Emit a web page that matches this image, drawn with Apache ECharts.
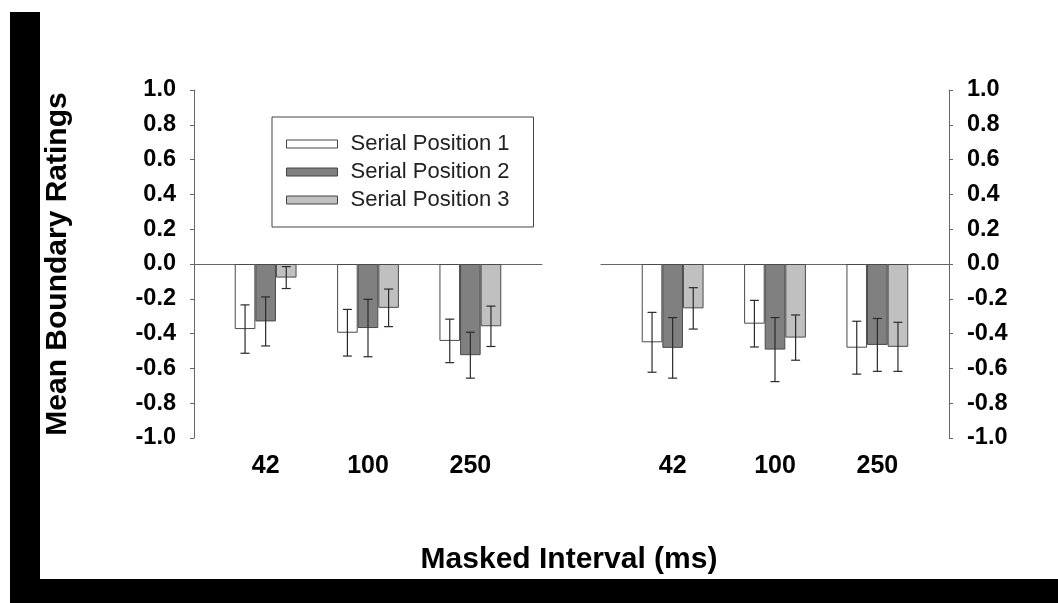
<!DOCTYPE html>
<html>
<head>
<meta charset="utf-8">
<script src="https://cdn.jsdelivr.net/npm/echarts@6/dist/echarts.min.js"></script>
<style>
html,body{margin:0;padding:0;background:#fff;}
#chart{width:1058px;height:603px;}
</style>
</head>
<body>
<div id="chart"></div>
<script>
// ---- data ----
const categories = ['42', '100', '250'];
const seriesNames = ['Serial Position 1', 'Serial Position 2', 'Serial Position 3'];

const leftSP1 = [-0.374, -0.395, -0.442];
const leftSP1Err = [0.139, 0.134, 0.125];
const leftSP2 = [-0.330, -0.368, -0.524];
const leftSP2Err = [0.141, 0.165, 0.132];
const leftSP3 = [-0.078, -0.252, -0.358];
const leftSP3Err = [0.063, 0.108, 0.116];

const rightSP1 = [-0.450, -0.343, -0.481];
const rightSP1Err = [0.172, 0.134, 0.152];
const rightSP2 = [-0.482, -0.492, -0.465];
const rightSP2Err = [0.174, 0.184, 0.152];
const rightSP3 = [-0.255, -0.423, -0.476];
const rightSP3Err = [0.119, 0.130, 0.141];

const yTicks = { min: -1.0, max: 1.0, interval: 0.2 };

// ---- styles ----
const BAR_W = 20.6;
const fills = ['#ffffff', '#808080', '#c0c0c0'];
const axisColor = '#666666';
const FONT = '"Liberation Sans", Arial, sans-serif';

const panels = [
  { vals: [leftSP1, leftSP2, leftSP3], errs: [leftSP1Err, leftSP2Err, leftSP3Err] },
  { vals: [rightSP1, rightSP2, rightSP3], errs: [rightSP1Err, rightSP2Err, rightSP3Err] }
];

function fmt(v) {
  if (Math.abs(v) < 1e-9) return '0.0';
  return v.toFixed(1);
}

const grids = [
  { left: 194, top: 90, width: 348, height: 348, containLabel: false, outerBoundsMode: 'none' },
  { left: 601, top: 90, width: 348, height: 348, containLabel: false, outerBoundsMode: 'none' }
];

const xAxes = [];
const yAxes = [];
const series = [];

panels.forEach((p, gi) => {
  // zero line axis (used by bars)
  xAxes.push({
    gridIndex: gi, type: 'value', min: -0.7, max: 2.7, position: 'top',
    axisLine: { show: true, onZero: true, lineStyle: { color: axisColor, width: 1 } },
    axisTick: { show: false }, axisLabel: { show: false }, splitLine: { show: false }
  });
  // label axis at bottom
  xAxes.push({
    gridIndex: gi, type: 'value', min: -0.7, max: 2.7, position: 'bottom',
    axisLine: { show: false, onZero: false }, axisTick: { show: false }, splitLine: { show: false },
    axisLabel: {
      customValues: [0, 1, 2],
      formatter: v => categories[Math.round(v)],
      fontSize: 25, fontWeight: 'bold', color: '#000', fontFamily: FONT, margin: 16
    }
  });
  yAxes.push({
    gridIndex: gi, type: 'value', min: yTicks.min, max: yTicks.max, interval: yTicks.interval,
    position: gi === 0 ? 'left' : 'right',
    axisLine: { show: true, onZero: false, lineStyle: { color: axisColor, width: 1 } },
    axisTick: { show: true, length: 4, inside: false, lineStyle: { color: axisColor } },
    axisLabel: { formatter: fmt, fontSize: 23.5, fontWeight: 'bold', color: '#000', fontFamily: FONT, margin: 18 },
    splitLine: { show: false },
    name: gi === 0 ? 'Mean Boundary Ratings' : '',
    nameLocation: 'middle', nameGap: 121,
    nameTextStyle: { fontSize: 30, fontWeight: 'bold', color: '#000', fontFamily: FONT }
  });

  const xIdx = gi * 2;
  p.vals.forEach((vals, si) => {
    series.push({
      type: 'bar', name: seriesNames[si], xAxisIndex: xIdx, yAxisIndex: gi,
      barWidth: BAR_W, barGap: '0%',
      itemStyle: { color: fills[si], borderColor: '#4a4a4a', borderWidth: 1 },
      data: vals.map((v, i) => [i, v]),
      z: 2
    });
  });
  p.vals.forEach((vals, si) => {
    series.push({
      type: 'custom', name: seriesNames[si] + ' error', xAxisIndex: xIdx, yAxisIndex: gi,
      data: vals.map((v, i) => [i, v, p.errs[si][i]]),
      encode: { x: 0, y: 1 },
      z: 5,
      silent: true,
      renderItem: function (params, api) {
        const x = api.value(0), v = api.value(1), e = api.value(2);
        const top = api.coord([x, v + e]);
        const bot = api.coord([x, v - e]);
        const cx = top[0] + (si - 1) * BAR_W;
        const cap = 4.5;
        const st = { stroke: '#2a2a2a', lineWidth: 1.2 };
        return {
          type: 'group',
          children: [
            { type: 'line', shape: { x1: cx, y1: top[1], x2: cx, y2: bot[1] }, style: st },
            { type: 'line', shape: { x1: cx - cap, y1: top[1], x2: cx + cap, y2: top[1] }, style: st },
            { type: 'line', shape: { x1: cx - cap, y1: bot[1], x2: cx + cap, y2: bot[1] }, style: st }
          ]
        };
      }
    });
  });
});

const chart = echarts.init(document.getElementById('chart'), null, { renderer: 'canvas' });
chart.setOption({
  backgroundColor: '#ffffff',
  animation: false,
  grid: grids,
  xAxis: xAxes,
  yAxis: yAxes,
  legend: {
    data: seriesNames,
    orient: 'vertical',
    left: 272, top: 117,
    icon: 'rect',
    itemWidth: 51, itemHeight: 8, itemGap: 6,
    padding: [16, 24, 16, 14],
    borderColor: '#444', borderWidth: 1,
    itemStyle: { borderColor: '#444', borderWidth: 1 },
    textStyle: { fontSize: 22, color: '#222', fontFamily: FONT, lineHeight: 20, padding: [0, 0, 0, 8] },
    selectedMode: false
  },
  graphic: [
    { type: 'rect', shape: { x: 10, y: 12, width: 30, height: 591 }, style: { fill: '#000' }, z: 100 },
    { type: 'rect', shape: { x: 10, y: 579, width: 1048, height: 24 }, style: { fill: '#000' }, z: 100 },
    { type: 'text', x: 569, y: 560, style: { text: 'Masked Interval (ms)', fontSize: 30, fontWeight: 'bold', fill: '#000', fontFamily: FONT, align: 'center', verticalAlign: 'middle' }, z: 100 }
  ],
  series: series
});
</script>
</body>
</html>
